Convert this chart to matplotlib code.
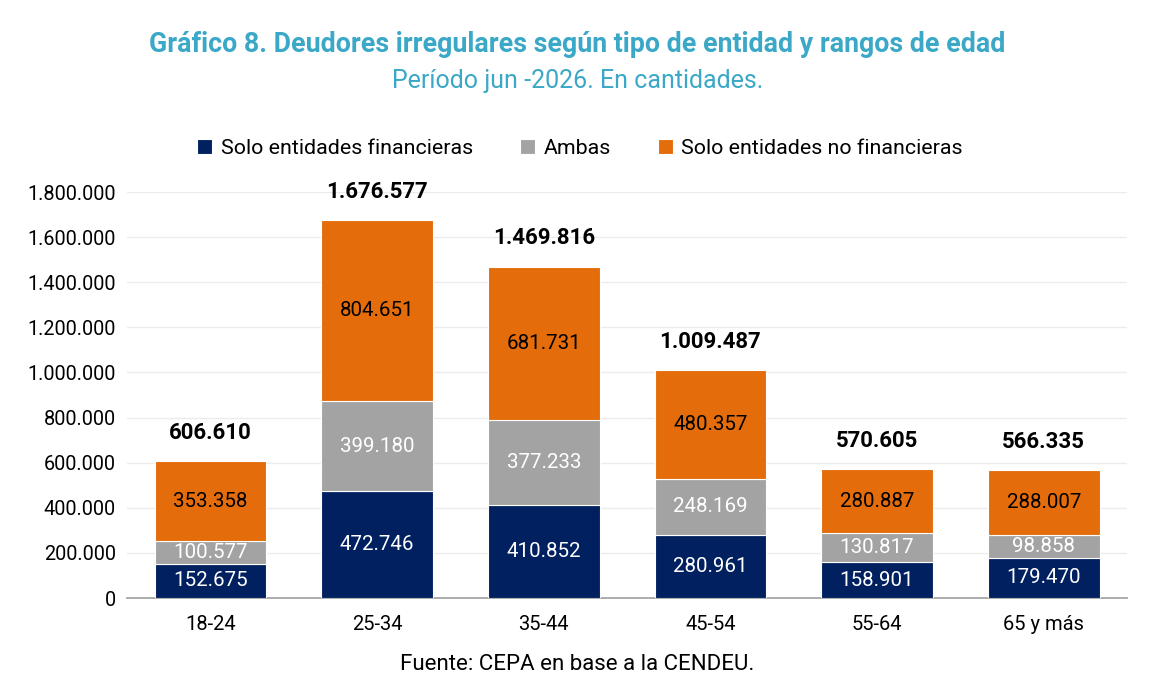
import matplotlib
matplotlib.use('Agg')
import matplotlib.pyplot as plt
import numpy as np

plt.rcParams['font.family'] = ['Roboto', 'DejaVu Sans']

# Datos
categorias = ["18-24", "25-34", "35-44", "45-54", "55-64", "65 y más"]
solo_financieras = [152675, 472746, 410852, 280961, 158901, 179470]
ambas = [100577, 399180, 377233, 248169, 130817, 98858]
solo_no_financieras = [353358, 804651, 681731, 480357, 280887, 288007]
totales = [606610, 1676577, 1469816, 1009487, 570605, 566335]
yticks = [0, 200000, 400000, 600000, 800000, 1000000, 1200000, 1400000, 1600000, 1800000]

series = ["Solo entidades financieras", "Ambas", "Solo entidades no financieras"]
colores = ["#002060", "#a3a3a3", "#e46c0a"]
color_texto = ["white", "white", "black"]
titulo_color = "#3aa8c6"


def fmt(v):
    return f"{v:,}".replace(",", ".")


fig = plt.figure(figsize=(11.55, 6.92), dpi=100)
ax = fig.add_axes([0.11, 0.1358, 0.8658, 0.5867])

x = np.arange(len(categorias))
ancho = 0.67
base = np.zeros(len(categorias))
for nombre, valores, color, tc in zip(series, [solo_financieras, ambas, solo_no_financieras], colores, color_texto):
    ax.bar(x, valores, ancho, bottom=base, color=color, edgecolor="white",
           linewidth=0.8, label=nombre, zorder=3)
    for xi, b, v in zip(x, base, valores):
        ax.text(xi, b + v / 2, fmt(v), ha="center", va="center", color=tc, fontsize=14.8, zorder=4)
    base = base + np.array(valores)

for xi, t in zip(x, totales):
    ax.text(xi, t + 125000, fmt(t), ha="center", va="center", fontsize=16,
            fontweight="bold", color="black")

ax.set_xlim(-0.5, len(categorias) - 0.5)
ax.set_ylim(0, 1800000)
ax.set_yticks(yticks)
ax.set_yticklabels([fmt(v) for v in yticks], fontsize=14.3)
ax.set_xticks(x)
ax.set_xticklabels(categorias, fontsize=14.5)
ax.tick_params(length=0, pad=8)
ax.tick_params(axis="x", pad=12)
ax.grid(axis="y", color="#ececec", linewidth=1, zorder=0)
for s in ["top", "right", "left"]:
    ax.spines[s].set_visible(False)
ax.spines["bottom"].set_color("#a6a6a6")
ax.spines["bottom"].set_linewidth(1.3)

fig.legend(loc="center", bbox_to_anchor=(0.502, 0.786), ncol=3, frameon=False,
           fontsize=15.4, handlelength=0.7, handleheight=0.7, handletextpad=0.4,
           columnspacing=2.2)

fig.text(0.5, 0.935, "Gráfico 8. Deudores irregulares según tipo de entidad y rangos de edad",
         ha="center", va="center", fontsize=19.3, fontweight="bold", color=titulo_color)
fig.text(0.5, 0.883, "Período jun -2026. En cantidades.", ha="center", va="center",
         fontsize=18, color=titulo_color)
fig.text(0.5, 0.04, "Fuente: CEPA en base a la CENDEU.", ha="center", va="center",
         fontsize=16, color="black")

plt.savefig("out.png", dpi=100)
plt.close()
